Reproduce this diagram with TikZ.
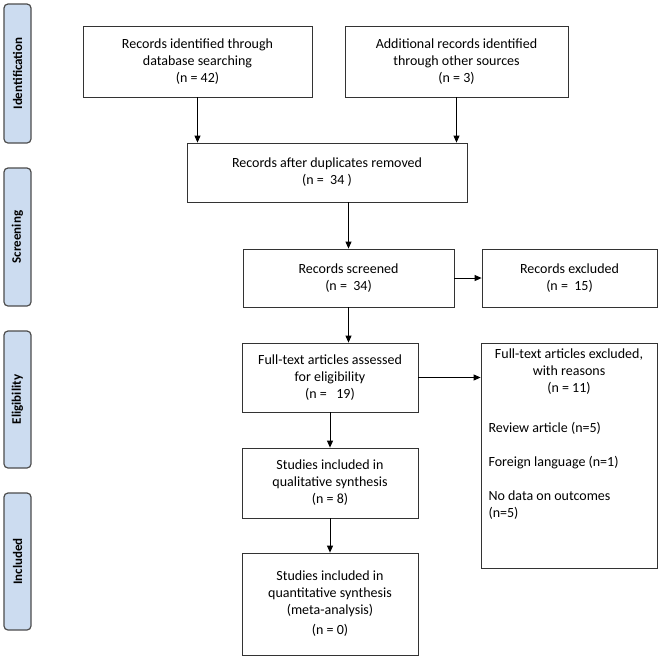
\documentclass[tikz,border=0pt]{standalone}
\usepackage{fontspec}
\setmainfont{Carlito}
\usetikzlibrary{arrows.meta}
\definecolor{sidefill}{RGB}{204,220,240}
\begin{document}
\begin{tikzpicture}[x=1pt,y=-1pt,
  box/.style={draw=black!80,line width=0.8pt,align=center,font=\fontsize{14}{17}\selectfont},
  side/.style={draw=black!70,line width=1.2pt,fill=sidefill,rounded corners=4pt,minimum height=27pt,inner sep=0pt,font=\bfseries\fontsize{13}{15}\selectfont},
  arr/.style={-{Triangle[length=7pt,width=6pt]},line width=0.9pt}]
\useasboundingbox (0,0) rectangle (660,657);
\def\bx#1#2#3#4#5#6{\node[box,minimum width=#4-#2,minimum height=#5-#3] (#1) at ({(#2+#4)/2},{(#3+#5)/2}) {#6};}
\def\sd#1#2#3#4{\node[side,minimum width=#3-#2,rotate=90] (#1) at (17.5,{(#2+#3)/2}) {#4};}
\sd{s1}{4}{143}{Identification}
\sd{s2}{168}{306}{Screening}
\sd{s3}{331}{468}{Eligibility}
\sd{s4}{493}{630}{Included}
\bx{A}{83}{26}{312}{97}{Records identified through\\database searching\\(n = 42)}
\bx{B}{345}{26}{568}{97}{Additional records identified\\through other sources\\(n = 3)}
\bx{C}{187}{143}{467}{202}{Records after duplicates removed\\(n =\ \ 34 )}
\bx{D}{243}{249}{454}{307}{Records screened\\(n =\ \ 34)}
\bx{E}{482}{249}{657}{307}{Records excluded\\(n =\ \ 15)}
\bx{F}{242}{343}{418}{412}{Full-text articles assessed\\for eligibility\\(n =\ \ \ 19)}
\bx{G}{481}{343}{657}{568}{}
\node[align=center,font=\fontsize{14}{17}\selectfont,anchor=north] (Gt) at (G.north) [yshift=-3pt] {Full-text articles excluded,\\with reasons\\(n = 11)};
\node[align=left,font=\fontsize{14}{17}\selectfont,anchor=north west] (Gr) at (485,419) {Review article (n=5)\\[17pt]Foreign language (n=1)\\[17pt]No data on outcomes\\(n=5)};
\bx{H}{242}{448}{418}{518}{Studies included in\\qualitative synthesis\\(n = 8)}
\bx{I}{242}{553}{418}{655}{Studies included in\\quantitative synthesis\\(meta-analysis)\\[3pt](n = 0)}
\draw[arr] (A.south) -- (A.south |- C.north);
\draw[arr] (B.south) -- (B.south |- C.north);
\draw[arr] (C.south -| D.north) -- (D.north);
\draw[arr] (D.east) -- (E.west);
\draw[arr] (D.south) -- (D.south |- F.north);
\draw[arr] (F.east) -- (F.east -| G.west);
\draw[arr] (F.south) -- (H.north);
\draw[arr] (H.south) -- (I.north);
\end{tikzpicture}
\end{document}
